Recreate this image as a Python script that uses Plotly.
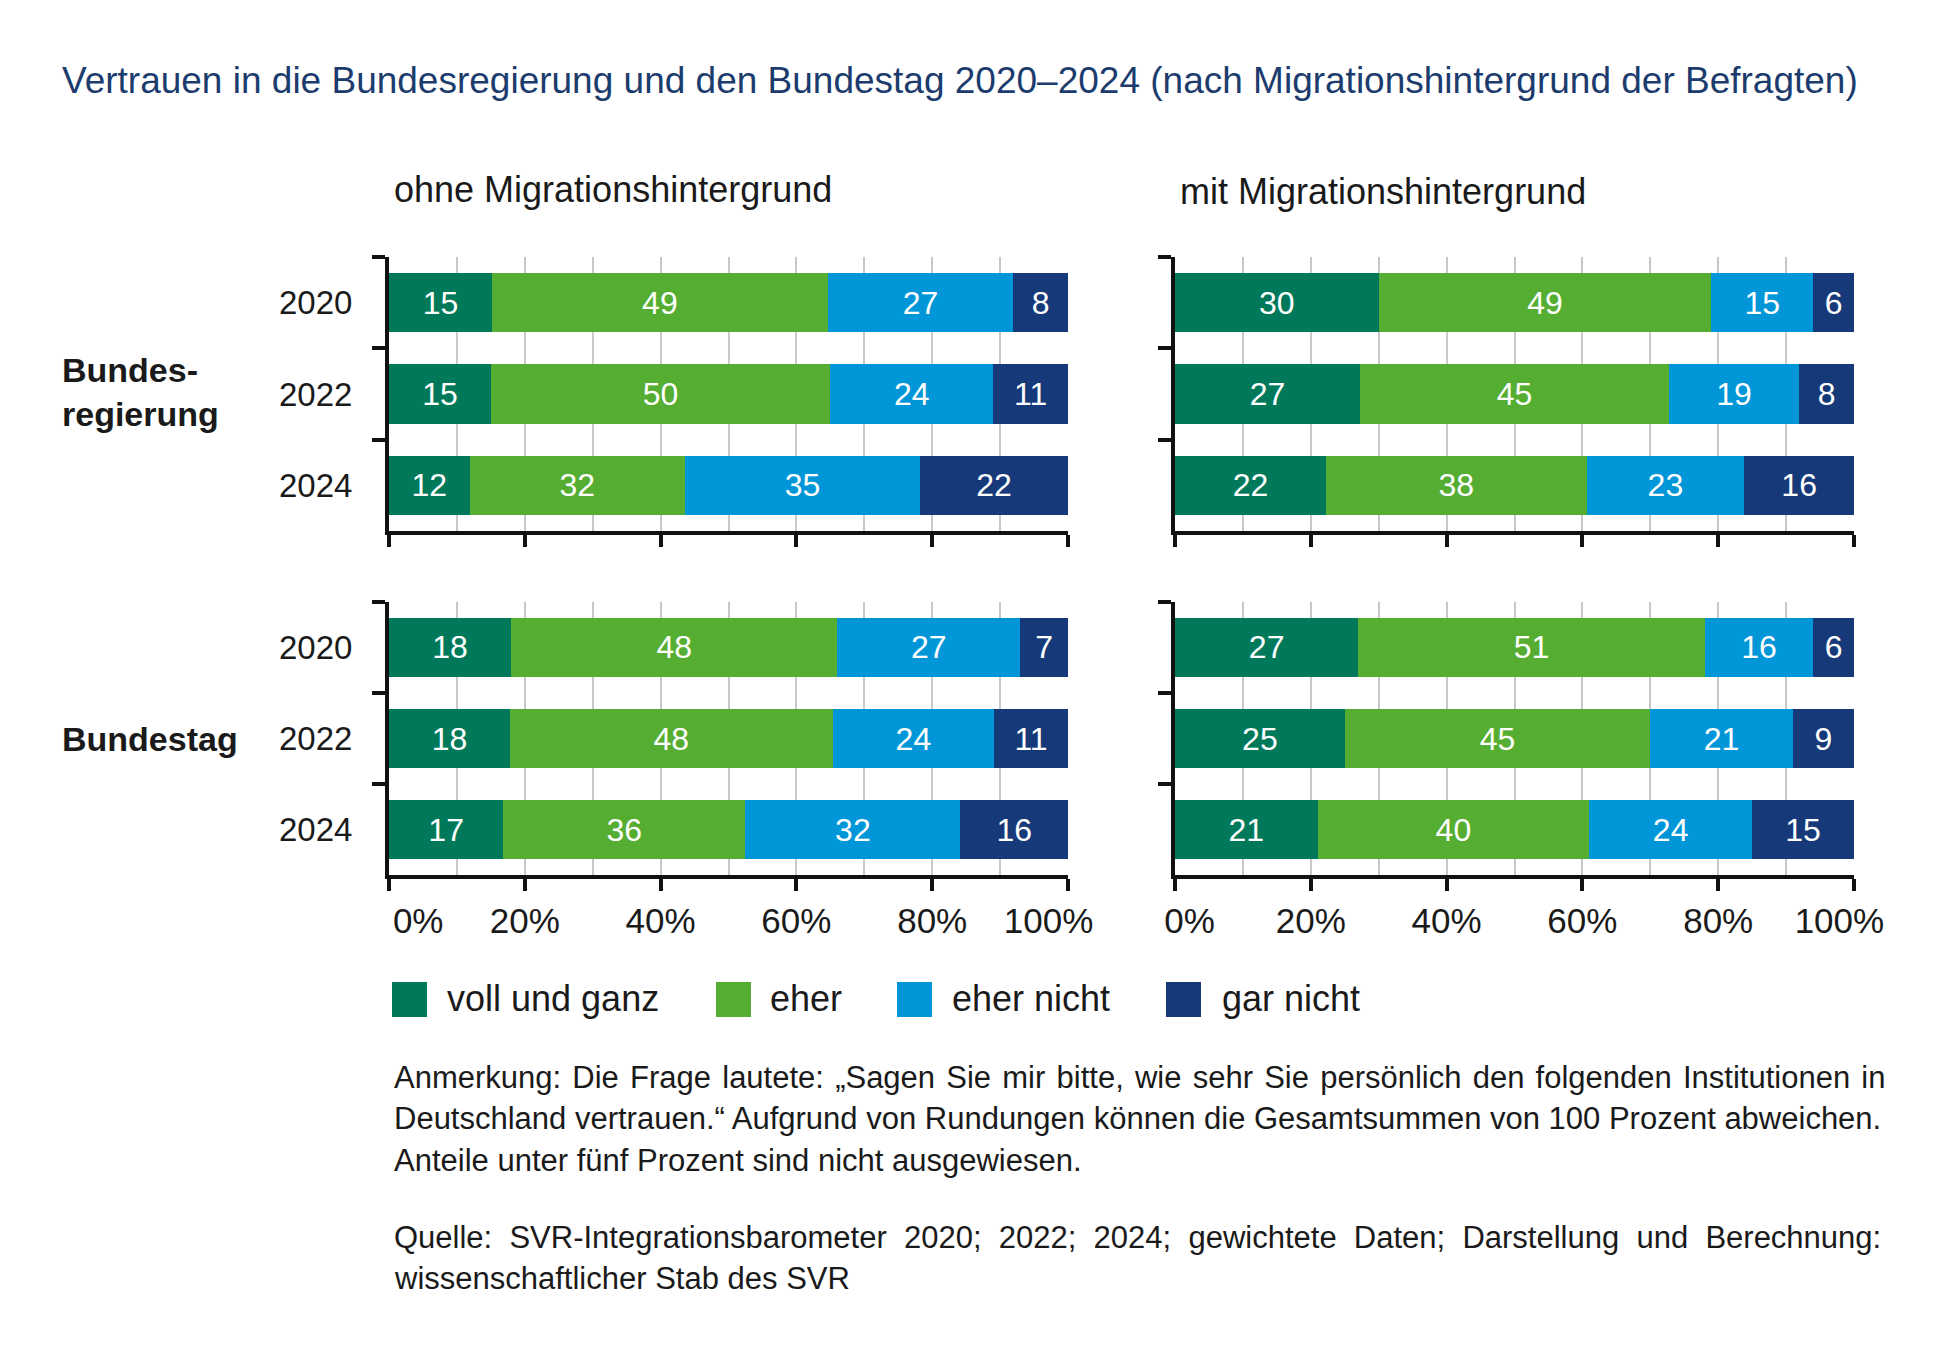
import plotly.graph_objects as go

# the page body adds an 8 px margin; the figure is sized so it fits the window
PAGE_W, PAGE_H, BODY = 1949, 1346, 8
W, H = PAGE_W - 2 * BODY, PAGE_H - 2 * BODY

years = ["2020", "2022", "2024"]
categories = ["voll und ganz", "eher", "eher nicht", "gar nicht"]
colors = ["#00795b", "#55ae31", "#0096d7", "#163a79"]
pct_ticks = [0, 20, 40, 60, 80, 100]

# Bundesregierung, ohne Migrationshintergrund (2020, 2022, 2024)
reg_ohne_voll = [15, 15, 12]
reg_ohne_eher = [49, 50, 32]
reg_ohne_eher_nicht = [27, 24, 35]
reg_ohne_gar_nicht = [8, 11, 22]

# Bundesregierung, mit Migrationshintergrund
reg_mit_voll = [30, 27, 22]
reg_mit_eher = [49, 45, 38]
reg_mit_eher_nicht = [15, 19, 23]
reg_mit_gar_nicht = [6, 8, 16]

# Bundestag, ohne Migrationshintergrund
tag_ohne_voll = [18, 18, 17]
tag_ohne_eher = [48, 48, 36]
tag_ohne_eher_nicht = [27, 24, 32]
tag_ohne_gar_nicht = [7, 11, 16]

# Bundestag, mit Migrationshintergrund
tag_mit_voll = [27, 25, 21]
tag_mit_eher = [51, 45, 40]
tag_mit_eher_nicht = [16, 21, 24]
tag_mit_gar_nicht = [6, 9, 15]

row_labels = ["Bundes-<br>regierung", "Bundestag"]
col_labels = ["ohne Migrationshintergrund", "mit Migrationshintergrund"]

title = ("Vertrauen in die Bundesregierung und den Bundestag 2020–2024 "
         "(nach Migrationshintergrund der Befragten)")
note_lines = [
    "Anmerkung: Die Frage lautete: „Sagen Sie mir bitte, wie sehr Sie persönlich den folgenden Institutionen in",
    "Deutschland vertrauen.“ Aufgrund von Rundungen können die Gesamtsummen von 100 Prozent abweichen.",
    "Anteile unter fünf Prozent sind nicht ausgewiesen.",
]
source_lines = [
    "Quelle: SVR-Integrationsbarometer 2020; 2022; 2024; gewichtete Daten; Darstellung und Berechnung:",
    "wissenschaftlicher Stab des SVR",
]


# page pixel -> paper fraction
def px(x):
    return (x - BODY) / W


def py(y):
    return 1 - (y - BODY) / H


NB = "\u00a0"


def pct_labels(pad_first, pad_last):
    # end labels are nudged inwards like in the original layout
    labels = [f"{v}%" for v in pct_ticks]
    labels[0] = NB * pad_first + labels[0]
    labels[-1] = labels[-1] + NB * pad_last
    return labels


def spread(line, filler):
    # widen the word gaps to imitate justified text
    return line.replace(" ", " " + filler)


FONT = "Liberation Sans, Arial, sans-serif"
INK = "#1a1a1a"

panels = [
    ([reg_ohne_voll, reg_ohne_eher, reg_ohne_eher_nicht, reg_ohne_gar_nicht], "x", "y"),
    ([reg_mit_voll, reg_mit_eher, reg_mit_eher_nicht, reg_mit_gar_nicht], "x2", "y2"),
    ([tag_ohne_voll, tag_ohne_eher, tag_ohne_eher_nicht, tag_ohne_gar_nicht], "x3", "y3"),
    ([tag_mit_voll, tag_mit_eher, tag_mit_eher_nicht, tag_mit_gar_nicht], "x4", "y4"),
]

fig = go.Figure()

for series, xa, ya in panels:
    # bars are drawn as shares of the row total so every row ends at 100 %
    totals = [sum(v) for v in zip(*series)]
    for name, color, values in zip(categories, colors, series):
        share = [v / t * 100 for v, t in zip(values, totals)]
        fig.add_trace(
            go.Bar(
                y=years,
                x=share,
                orientation="h",
                name=name,
                marker=dict(color=color, line=dict(width=0)),
                text=values,
                texttemplate="%{text}",
                textposition="inside",
                insidetextanchor="middle",
                textangle=0,
                textfont=dict(color="white", size=32, family=FONT),
                width=0.65,
                showlegend=False,
                hoverinfo="skip",
                xaxis=xa,
                yaxis=ya,
            )
        )

xcommon = dict(
    range=[0, 100],
    tickmode="array", tickvals=pct_ticks,
    ticks="outside", ticklen=12, tickwidth=4, tickcolor="#111",
    showline=True, linewidth=4, linecolor="#111",
    showgrid=True, gridcolor="#c8c8c8", gridwidth=1.5,
    minor=dict(tickmode="linear", tick0=0, dtick=10, showgrid=True,
               gridcolor="#c8c8c8", gridwidth=1.5),
    tickfont=dict(size=35, color=INK, family=FONT),
    zeroline=False,
    automargin=False,
    fixedrange=True,
)
ycommon = dict(
    type="category",
    categoryorder="array", categoryarray=years,
    autorange="reversed",
    tickson="boundaries",
    ticks="outside", ticklen=13, tickwidth=4, tickcolor="#111",
    showline=True, linewidth=4, linecolor="#111",
    showgrid=False,
    tickfont=dict(size=33, color=INK, family=FONT),
    ticklabelstandoff=26,
    automargin=False,
    fixedrange=True,
)

left = [px(389), px(1068)]
right = [px(1175), px(1854)]
top = [py(531), py(257)]
bottom = [py(875), py(602)]

fig.update_layout(
    xaxis=dict(xcommon, domain=left, anchor="y", showticklabels=False),
    yaxis=dict(ycommon, domain=top, anchor="x"),
    xaxis2=dict(xcommon, domain=right, anchor="y2", showticklabels=False),
    yaxis2=dict(ycommon, domain=top, anchor="x2", showticklabels=False),
    xaxis3=dict(xcommon, domain=left, anchor="y3", ticktext=pct_labels(6, 4)),
    yaxis3=dict(ycommon, domain=bottom, anchor="x3"),
    xaxis4=dict(xcommon, domain=right, anchor="y4", ticktext=pct_labels(3, 3)),
    yaxis4=dict(ycommon, domain=bottom, anchor="x4", showticklabels=False),
)

annotations = [
    dict(text=title, x=px(60), y=py(81), xanchor="left", yanchor="middle",
         font=dict(size=37, color="#1c3c6e", family=FONT)),
    dict(text=col_labels[0], x=px(392), y=py(189), xanchor="left", yanchor="middle",
         font=dict(size=36, color=INK, family=FONT)),
    dict(text=col_labels[1], x=px(1178), y=py(191), xanchor="left", yanchor="middle",
         font=dict(size=36, color=INK, family=FONT)),
    dict(text="<b>" + row_labels[0] + "</b>", x=px(60), y=py(392), xanchor="left",
         yanchor="middle", align="left", font=dict(size=34, color=INK, family=FONT)),
    dict(text="<b>" + row_labels[1] + "</b>", x=px(60), y=py(739), xanchor="left",
         yanchor="middle", align="left", font=dict(size=34, color=INK, family=FONT)),
]

# legend drawn by hand so the colour squares keep their size
legend_box_x = [392, 716, 897, 1166]
legend_text_x = [445, 768, 950, 1220]
shapes = []
for name, color, bx, tx in zip(categories, colors, legend_box_x, legend_text_x):
    shapes.append(dict(type="rect", xref="paper", yref="paper",
                       x0=px(bx), x1=px(bx + 35), y0=py(1017), y1=py(982),
                       fillcolor=color, line=dict(width=0)))
    annotations.append(dict(text=name, x=px(tx), y=py(999), xanchor="left", yanchor="middle",
                            font=dict(size=36, color=INK, family=FONT)))

note_fill = ["\u200a", "", ""]
for line, fill, y in zip(note_lines, note_fill, [1077, 1118, 1160]):
    annotations.append(dict(text=spread(line, fill), x=px(392), y=py(y),
                            xanchor="left", yanchor="middle",
                            font=dict(size=31, color=INK, family=FONT)))
source_fill = [NB, ""]
for line, fill, y in zip(source_lines, source_fill, [1237, 1278]):
    annotations.append(dict(text=spread(line, fill), x=px(392), y=py(y),
                            xanchor="left", yanchor="middle",
                            font=dict(size=31, color=INK, family=FONT)))

for a in annotations:
    a.update(xref="paper", yref="paper", showarrow=False)

fig.update_layout(
    width=W,
    height=H,
    margin=dict(l=0, r=0, t=0, b=0, autoexpand=False),
    barmode="stack",
    showlegend=False,
    plot_bgcolor="white",
    paper_bgcolor="white",
    font=dict(family=FONT, color=INK),
    annotations=annotations,
    shapes=shapes,
)

fig.write_html("out.html")
